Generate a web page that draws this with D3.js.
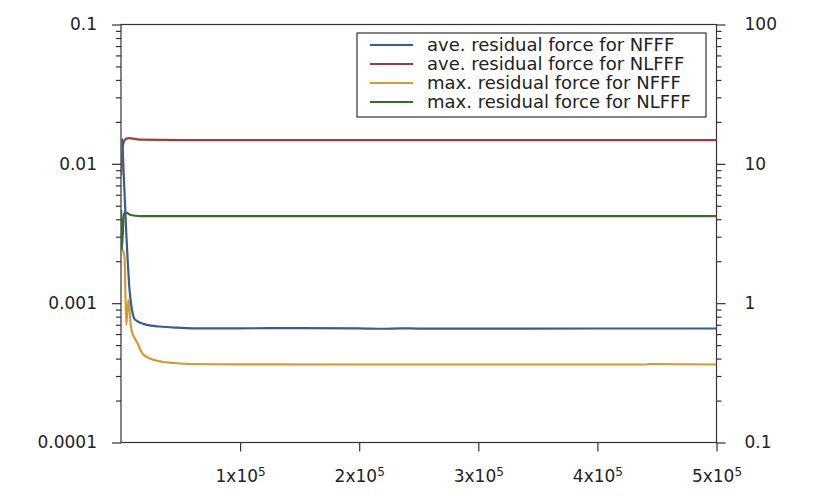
<!DOCTYPE html>
<html>
<head>
<meta charset="utf-8">
<script src="https://cdn.jsdelivr.net/npm/d3@7"></script>
<style>
  body { margin: 0; background: #fff; }
  text { font-family: "DejaVu Sans", sans-serif; fill: #222; }
</style>
</head>
<body>
<div id="chart"></div>
<script>
// Residual force vs. iteration, log axes (left: ave., right: max.)

const seriesNames = [
    "ave. residual force for NFFF",
    "ave. residual force for NLFFF",
    "max. residual force for NFFF",
    "max. residual force for NLFFF"
];
const seriesColors = ["#3b5a8e", "#a23b3f", "#d39b2f", "#3a6b29"];

// ave. NFFF (left axis)
const aveNfffX = [1000, 4500, 7300, 8600, 11000, 14000, 19000, 25000, 32000, 45000, 60000, 100000, 150000, 200000, 220000, 235000, 250000, 300000, 400000, 500000];
const aveNfffY = [0.0152, 0.0031, 0.00121, 0.00097, 0.00078, 0.00074, 0.00071, 0.000690, 0.00068, 0.000668, 0.00066, 0.00066, 0.000662, 0.00066, 0.000655, 0.00066, 0.000657, 0.000657, 0.000658, 0.000658];

// ave. NLFFF (left axis)
const aveNlfffX = [200, 1700, 4000, 6700, 16000, 50000, 150000, 300000, 500000];
const aveNlfffY = [0.0083, 0.0137, 0.0151, 0.0153, 0.0149, 0.0148, 0.0148, 0.0148, 0.0148];

// max. NFFF (right axis)
const maxNfffX = [400, 2900, 4450, 6100, 6900, 8100, 9500, 11500, 13700, 17600, 22000, 27000, 34400, 45000, 59600, 100000, 200000, 300000, 440000, 445000, 500000];
const maxNfffY = [2.49, 2.18, 0.70, 1.05, 0.95, 0.70, 0.61, 0.56, 0.52, 0.44, 0.41, 0.393, 0.38, 0.372, 0.366, 0.364, 0.363, 0.363, 0.363, 0.366, 0.363];

// max. NLFFF (right axis)
const maxNlfffX = [100, 600, 2500, 4000, 8000, 16000, 60000, 200000, 500000];
const maxNlfffY = [4.66, 2.41, 4.36, 4.49, 4.29, 4.22, 4.22, 4.22, 4.22];

const leftTicks = [0.0001, 0.001, 0.01, 0.1];
const leftTickLabels = ["0.0001", "0.001", "0.01", "0.1"];
const rightTicks = [0.1, 1, 10, 100];
const rightTickLabels = ["0.1", "1", "10", "100"];
const xTicks = [100000, 200000, 300000, 400000, 500000];
const xTickMantissa = ["1", "2", "3", "4", "5"];

function minorTicks(lo, hi) {
    const out = [];
    for (let d = lo; d < hi; d *= 10) {
        for (let k = 2; k <= 9; k++) out.push(d * k);
    }
    return out;
}

function draw() {
    const W = 830, H = 498;
    const margin = {top: 24.5, right: 113.5, bottom: 55.5, left: 121};
    const width = W - margin.left - margin.right,
          height = H - margin.top - margin.bottom;

    const svg = d3.select("#chart").append("svg")
        .attr("width", W)
        .attr("height", H);

    const g = svg.append("g")
        .attr("transform", `translate(${margin.left},${margin.top})`);

    const x = d3.scaleLinear().domain([0, 500000]).range([0, width]);
    const yL = d3.scaleLog().domain([0.0001, 0.1]).range([height, 0]);
    const yR = d3.scaleLog().domain([0.1, 100]).range([height, 0]);

    const axisColor = "#333";

    // left axis: major + minor
    const leftMajor = g.append("g")
        .call(d3.axisLeft(yL).tickValues(leftTicks).tickSize(9).tickPadding(15)
            .tickFormat((d, i) => leftTickLabels[i]));
    const leftMinor = g.append("g")
        .call(d3.axisLeft(yL).tickValues(minorTicks(0.0001, 0.1)).tickSize(5).tickFormat(""));

    // right axis
    const rightMajor = g.append("g")
        .attr("transform", `translate(${width},0)`)
        .call(d3.axisRight(yR).tickValues(rightTicks).tickSize(9).tickPadding(19)
            .tickFormat((d, i) => rightTickLabels[i]));
    const rightMinor = g.append("g")
        .attr("transform", `translate(${width},0)`)
        .call(d3.axisRight(yR).tickValues(minorTicks(0.1, 100)).tickSize(5).tickFormat(""));

    // bottom axis
    const bottom = g.append("g")
        .attr("transform", `translate(0,${height})`)
        .call(d3.axisBottom(x).tickValues(xTicks).tickSize(9).tickFormat(""));

    bottom.selectAll(".tick").each(function(d, i) {
        const t = d3.select(this).append("text")
            .attr("y", 39.5)
            .attr("text-anchor", "middle")
            .style("font-size", "17px");
        t.append("tspan").text(xTickMantissa[i] + "x10");
        t.append("tspan")
            .attr("dy", "-0.5em")
            .style("font-size", "12px")
            .text("5");
    });

    [leftMajor, leftMinor, rightMajor, rightMinor, bottom].forEach(a => {
        a.select(".domain").remove();
        a.selectAll("line").attr("stroke", axisColor).attr("stroke-width", 1.2);
        a.selectAll("text").style("font-family", "DejaVu Sans, sans-serif");
    });
    [leftMajor, rightMajor].forEach(a => {
        a.selectAll("text").style("font-size", "17px").attr("fill", "#222");
    });

    // frame
    g.append("rect")
        .attr("width", width)
        .attr("height", height)
        .attr("fill", "none")
        .attr("stroke", axisColor)
        .attr("stroke-width", 1.2);

    // clip
    svg.append("defs").append("clipPath").attr("id", "plotclip")
        .append("rect").attr("width", width).attr("height", height);

    const series = [
        {xs: aveNfffX, ys: aveNfffY, y: yL},
        {xs: aveNlfffX, ys: aveNlfffY, y: yL},
        {xs: maxNfffX, ys: maxNfffY, y: yR},
        {xs: maxNlfffX, ys: maxNlfffY, y: yR}
    ];

    const lines = g.append("g").attr("clip-path", "url(#plotclip)");
    // draw in order so blue ends on top at the steep start like the reference
    [2, 3, 1, 0].forEach(i => {
        const s = series[i];
        const pts = s.xs.map((v, j) => [v, s.ys[j]]);
        const line = d3.line()
            .curve(d3.curveMonotoneX)
            .x(d => x(d[0]))
            .y(d => s.y(d[1]));
        lines.append("path")
            .datum(pts)
            .attr("d", line)
            .attr("fill", "none")
            .attr("stroke", seriesColors[i])
            .attr("stroke-width", 2.2)
            .attr("stroke-linejoin", "round");
    });

    // legend
    const legend = svg.append("g").attr("transform", "translate(357,33)");
    legend.append("rect")
        .attr("width", 349)
        .attr("height", 84)
        .attr("fill", "#fff")
        .attr("stroke", axisColor)
        .attr("stroke-width", 1.2);

    seriesNames.forEach((name, i) => {
        const yy = 12 + i * 19;
        legend.append("line")
            .attr("x1", 13).attr("x2", 56)
            .attr("y1", yy).attr("y2", yy)
            .attr("stroke", seriesColors[i])
            .attr("stroke-width", 2.2);
        legend.append("text")
            .attr("x", 70)
            .attr("y", yy)
            .attr("dy", "0.35em")
            .style("font-size", "18px")
            .text(name);
    });
}

draw();
</script>
</body>
</html>
